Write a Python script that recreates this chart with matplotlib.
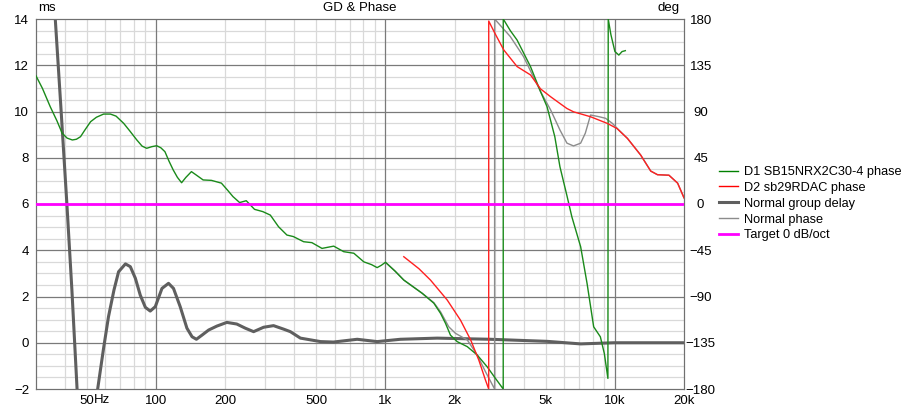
import matplotlib
matplotlib.use("Agg")
import matplotlib.pyplot as plt
import numpy as np

plt.rcParams["font.family"] = ["Liberation Sans", "DejaVu Sans"]
FS = 9.5

# Normal group delay (ms, left axis)
gd_freq = [34, 36.4, 38.5, 40.9, 43, 45.3, 47.5, 50, 52.5, 55.7, 59.1, 62.1, 65.6,
           68.7, 73.6, 77.3, 81.3, 85.4, 89.9, 94.4, 99.3, 106.2, 113.4, 119.2,
           127.5, 136.4, 143.6, 150, 158.7, 169.6, 184.2, 203.6, 224.9, 245, 266.3,
           294.4, 325.3, 359.6, 385, 426, 521, 593, 753, 920, 1162, 1680, 2870,
           5070, 7090, 9900, 20000]
gd_ms = [17, 14, 10.2, 6, 2.3, -2, -5, -6.5, -5, -2, -0.24, 1.13, 2.28,
         3.07, 3.41, 3.29, 2.79, 2.06, 1.53, 1.37, 1.56, 2.35, 2.57, 2.35,
         1.56, 0.63, 0.26, 0.15, 0.33, 0.55, 0.72, 0.88, 0.81, 0.63, 0.48,
         0.67, 0.74, 0.59, 0.48, 0.2, 0.05, 0.03, 0.15, 0.05, 0.15, 0.2, 0.15,
         0.06, -0.05, 0.0, 0.0]

# D1 SB15NRX2C30-4 phase (deg, right axis)
d1_freq = [30, 32, 34.6, 37, 39, 41, 43.2, 45, 46.9, 49, 51.9, 55, 59.1, 63.3, 67,
           72.3, 77, 82.5, 87, 91.1, 96, 100.7, 105, 109.4, 114, 118.9, 124, 129.3,
           135, 142.7, 150, 160.5, 174.4, 192.8, 205, 216.5, 231.5, 247.4, 268.8,
           292, 315, 342, 372, 397, 440, 478, 529, 595, 658, 728, 805, 870, 920, 960,
           1000, 1100, 1202, 1446, 1625, 1738, 1827, 1920, 2053, 2273, 2511, 2775,
           3000, 3260, 3261, 3500, 3747, 4286, 4740, 5060, 5470, 5760, 6180, 6490,
           7090, 7560, 8080, 8640, 8990, 9320, 9350, 9600, 10000, 10400, 10740, 11100]
d1_deg = [124.7, 112.5, 94.7, 81, 68.9, 64.1, 62.3, 63, 65.5, 72, 80.1, 84.4, 87.5,
          87.5, 85.5, 78.5, 70.9, 62.3, 56.3, 54.2, 55.8, 56.7, 54.7, 50.9, 41.6,
          33.1, 25.9, 20.7, 25.9, 31.5, 28.1, 23.4, 23.0, 20.3, 13.5, 7.2, 1.4, 3.2,
          -5.2, -7.4, -10.8, -22.1, -30.2, -31.7, -36.7, -37.6, -43.2, -41.0, -46.4,
          -47.9, -56.3, -59, -61.9, -59.6, -56.7, -65.2, -74.0, -86.9, -96.5, -106.4,
          -116.1, -127.6, -133.9, -138.8, -146.9, -158.4, -169, -180, 180, 168.7,
          159.5, 133.7, 109.4, 94.7, 65.5, 36.2, 8, -12.4, -41.6, -77.2, -119.5,
          -129.2, -145.4, -169.7, 180, 165, 148.3, 144.9, 148.3, 149.2]

# D2 sb29RDAC phase (deg)
d2_freq = [1202, 1400, 1571, 1858, 2123, 2352, 2552, 2727, 2818, 2819, 3000, 3278,
           3747, 4286, 4740, 5250, 5760, 6180, 6600, 7830, 9270, 10200, 11340, 12950,
           14330, 15330, 17200, 18760, 20000]
d2_deg = [-51.3, -63, -74.0, -93.4, -113.0, -132.3, -151.9, -171.2, -180, 178, 166,
          149.9, 133.7, 125.6, 112, 104.3, 97.8, 92.9, 89.7, 84.9, 78.4, 73.5, 63.8,
          47.6, 32, 28.5, 28.0, 20.3, 6]

# Normal phase (deg)
np_freq = [1000, 1100, 1202, 1446, 1625, 1738, 1888, 2018, 2273, 2511, 2727, 2990,
           2991, 3500, 4000, 4740, 5250, 5760, 6180, 6600, 7090, 7430, 7830, 8500,
           9100, 9740, 10400, 11340, 12950, 14330, 15330, 17200, 18760, 20000]
np_deg = [-56.7, -65.2, -74.0, -86.9, -96, -104.9, -119.5, -125.8, -132.3, -146.9,
          -163.1, -180, 180, 162.9, 143.3, 109.4, 91.4, 72.0, 59.2, 56.5, 59.2, 68.9,
          86.6, 85.0, 83.4, 78.5, 72.0, 63.8, 47.6, 32, 28.5, 28.0, 20.3, 6]

target_freq = [30, 20000]
target_deg = [0, 0]

xtick_vals = [50, 100, 200, 500, 1000, 2000, 5000, 10000, 20000]
xtick_labels = ["50", "100", "200", "500", "1k", "2k", "5k", "10k", "20k"]

fig = plt.figure(figsize=(9.16, 4.05), dpi=100)
ax = fig.add_axes([36 / 916, 1 - 389 / 405, 648 / 916, 370 / 405])
ax.set_xscale("log")
ax.set_xlim(30, 20000)
ax.set_ylim(-2, 14)

# grid
for dec in [10, 100, 1000, 10000]:
    for m in range(2, 10):
        f = m * dec
        if 30 < f < 20000:
            ax.axvline(f, color="#d9d9d9", lw=0.9, zorder=0)
for f in [100, 1000, 10000]:
    ax.axvline(f, color="#7a7a7a", lw=0.9, zorder=0.5)
for y in np.arange(-2, 14.01, 0.5):
    if abs(y % 2) > 1e-6:
        ax.axhline(y, color="#d9d9d9", lw=0.9, zorder=0)
for y in range(0, 14, 2):
    ax.axhline(y, color="#7a7a7a", lw=0.9, zorder=0.5)

ax.plot(gd_freq, gd_ms, color="#5f5f5f", lw=2.2, zorder=2,
        solid_capstyle="round", solid_joinstyle="round")

ax.set_yticks(range(-2, 15, 2))
ax.set_xticks(xtick_vals)
ax.set_xticklabels(xtick_labels)
ax.xaxis.set_minor_locator(matplotlib.ticker.NullLocator())
ax.tick_params(axis="both", length=0, labelsize=FS)
ax.tick_params(axis="x", pad=4)
ax.tick_params(axis="y", pad=5)
for s in ax.spines.values():
    s.set_color("#707070")
ax.annotate("Hz", xy=(50, 0), xycoords=("data", "axes fraction"),
            xytext=(5.0, -4 * 0.72 - 0.5), textcoords="offset points",
            ha="left", va="top", fontsize=FS)

ax2 = ax.twinx()
ax2.set_ylim(-180, 180)
ax2.set_yticks(range(-180, 181, 45))
ax2.tick_params(axis="y", length=0, labelsize=FS, pad=12)
for lbl in ax2.get_yticklabels():
    lbl.set_horizontalalignment("center")
for s in ax2.spines.values():
    s.set_color("#707070")

ax2.plot(np_freq, np_deg, color="#8c8c8c", lw=1.0, zorder=2)
ax2.plot(d1_freq, d1_deg, color="#1a8a1a", lw=1.0, zorder=3)
ax2.plot(d2_freq, d2_deg, color="#ff2020", lw=1.0, zorder=3)
ax2.plot(target_freq, target_deg, color="#ff00ff", lw=2.0, zorder=5)

ax.text(0.003, 1.013, "ms", transform=ax.transAxes, fontsize=FS, ha="left", va="bottom")
ax.text(0.5, 1.013, "GD & Phase", transform=ax.transAxes, fontsize=FS, ha="center", va="bottom")
ax.text(0.994, 1.013, "deg", transform=ax.transAxes, fontsize=FS, ha="right", va="bottom")

handles = [
    plt.Line2D([], [], color="#008000", lw=1.0),
    plt.Line2D([], [], color="#ff0000", lw=1.0),
    plt.Line2D([], [], color="#5f5f5f", lw=2.2),
    plt.Line2D([], [], color="#8c8c8c", lw=1.0),
    plt.Line2D([], [], color="#ff00ff", lw=2.0),
]
labels = ["D1 SB15NRX2C30-4 phase", "D2 sb29RDAC phase", "Normal group delay",
          "Normal phase", "Target 0 dB/oct"]
fig.legend(handles, labels, loc="upper left", bbox_to_anchor=(719 / 916, 1 - 166 / 405),
           frameon=False, fontsize=9.2, handlelength=1.5, handletextpad=0.45,
           labelspacing=0.3, borderpad=0, borderaxespad=0)

fig.savefig("out.png", dpi=100)
